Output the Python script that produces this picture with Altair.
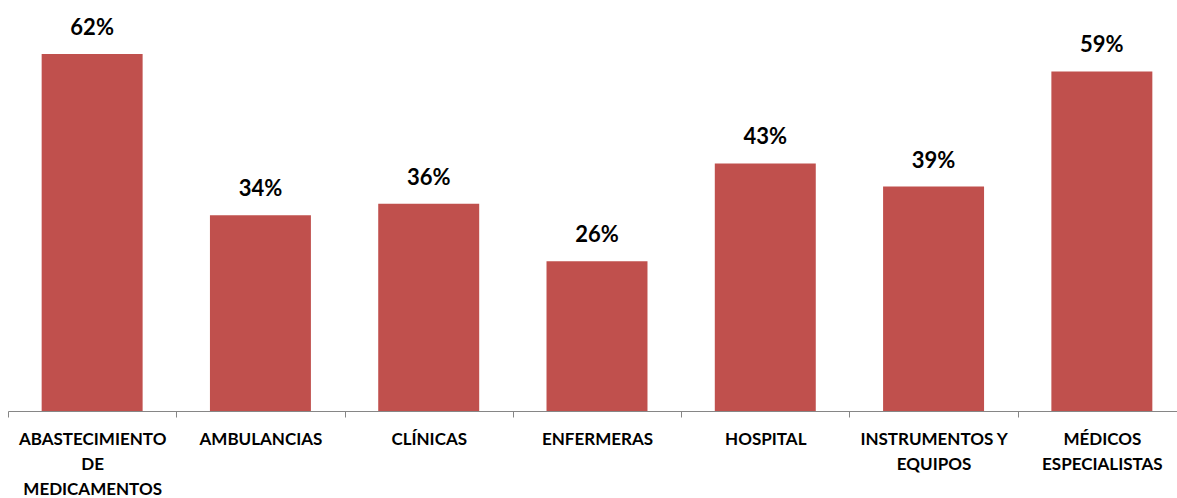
import altair as alt
import pandas as pd

categories = ["ABASTECIMIENTO DE MEDICAMENTOS", "AMBULANCIAS", "CLÍNICAS", "ENFERMERAS",
              "HOSPITAL", "INSTRUMENTOS Y EQUIPOS", "MÉDICOS ESPECIALISTAS"]
label_lines = ["ABASTECIMIENTO|DE|MEDICAMENTOS", "AMBULANCIAS", "CLÍNICAS", "ENFERMERAS",
               "HOSPITAL", "INSTRUMENTOS Y|EQUIPOS", "MÉDICOS|ESPECIALISTAS"]
values = [62, 34, 36, 26, 43, 39, 59]

df = pd.DataFrame({
    "cat": categories,
    "lbl": label_lines,
    "val": values,
    "txt": [f"{v}%" for v in values],
})

label_map = "{" + ",".join(f'"{c}":"{l}"' for c, l in zip(categories, label_lines)) + "}"
expr = ("isValid(" + label_map + "[datum.label]) ? split(" + label_map
        + "[datum.label], '|') : ''")

xscale = alt.Scale(range=[0, 1178], paddingInner=0.4, paddingOuter=0.2)
x = alt.X("cat:N", sort=categories, title=None, scale=xscale,
          axis=alt.Axis(labelAngle=0, labelFont="Lato", labelFontSize=17, labelFontWeight="bold",
                        labelColor="#000000", labelLineHeight=25, labelPadding=14,
                        labelExpr=expr, labelOffset=84.14,
                        tickOffset=-84.14, tickSize=6, tickColor="#868686",
                        domainColor="#868686", domainWidth=1, tickWidth=1, grid=False,
                        labelBaseline="top", labelLimit=0))
y = alt.Y("val:Q", scale=alt.Scale(domain=[0, 71.4], nice=False, zero=True), axis=None)

base = alt.Chart(df).encode(x=x, y=y)
bars = base.mark_bar(color="#C0504D")
text = base.mark_text(font="Lato", fontSize=22, fontWeight="bold", color="#000000",
                      baseline="alphabetic", dy=-19).encode(text="txt:N")

chart = (bars + text).properties(
    width=1169, height=411,
    autosize=alt.AutoSizeParams(type="none"),
    padding={"left": 8, "top": 0, "right": 0, "bottom": 87},
).configure(background="#ffffff").configure_view(stroke=None)

chart.save("out.html", embed_options={"renderer": "svg", "actions": False})
